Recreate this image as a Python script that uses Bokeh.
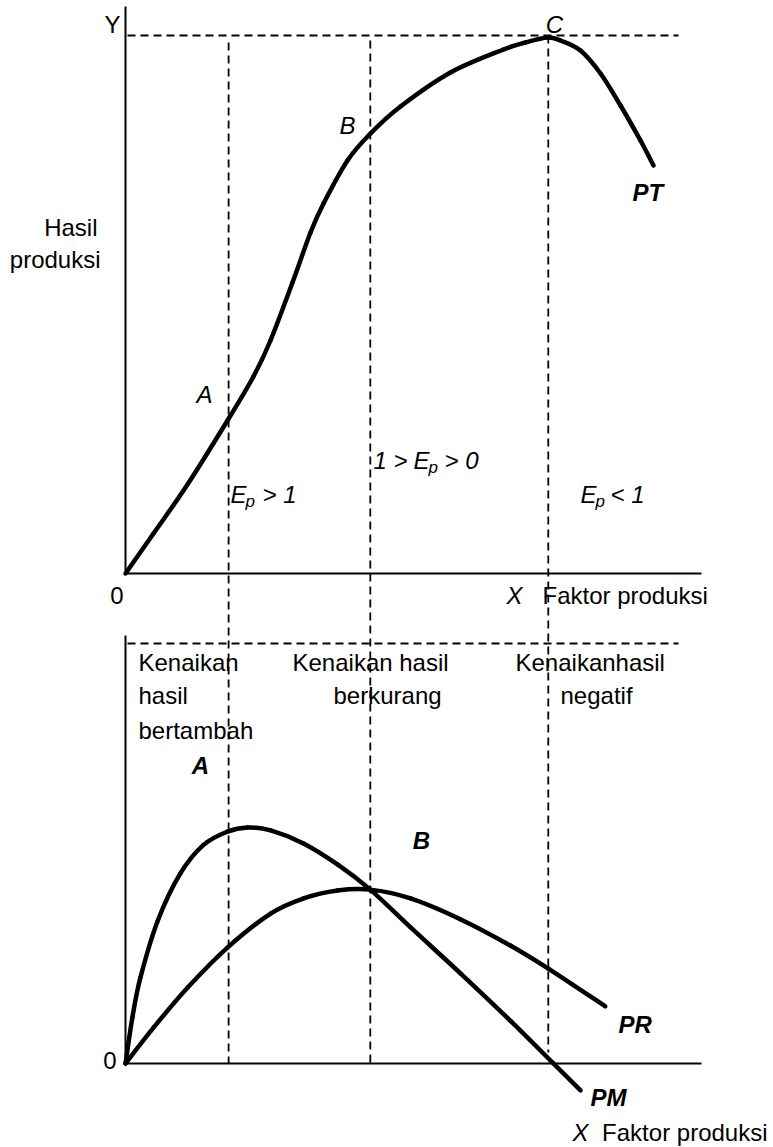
from bokeh.plotting import figure
from bokeh.models import Range1d
from bokeh.core.properties import value
from bokeh.embed import file_html
from bokeh.resources import INLINE

# ---------------- data (x: factor of production 0..100) ----------------
# Total product PT (top panel, y 0..100 where 100 = maximum at C)
pt_x = [0.0, 4.86, 10.76, 17.71, 22.22, 25.17, 28.99, 32.12, 34.38, 38.54, 42.53,
        47.74, 56.42, 65.63, 69.44, 73.26, 75.52, 78.99, 82.47, 85.94, 89.41, 91.67]
pt_y = [0.0, 7.43, 16.54, 28.44, 36.62, 43.31, 54.09, 63.38, 68.77, 76.77, 81.78,
        86.80, 93.12, 97.40, 98.70, 99.63, 99.07, 97.21, 92.94, 86.99, 80.48, 75.84]

# Marginal product PM (bottom panel)
pm_x = [0.0, 1.2, 2.6, 5.6, 9.5, 13.5, 17.7, 21.2, 25.2, 30.9, 36.8, 42.5,
        49.5, 58.2, 66.8, 74.3, 79.0]
pm_y = [0.0, 11.0, 20.5, 34.0, 45.2, 52.0, 55.2, 56.2, 55.5, 52.4, 47.4, 41.4,
        32.4, 21.4, 10.2, 0.0, -6.4]

# Average product PR (bottom panel)
pr_x = [0.0, 4.9, 10.8, 17.7, 25.2, 30.9, 36.8, 42.5, 49.5, 58.2, 66.8, 73.4, 83.3]
pr_y = [0.0, 8.6, 18.1, 27.6, 35.7, 39.3, 41.2, 41.4, 39.3, 34.3, 28.1, 22.6, 13.6]

# stage boundaries A, B, C on the x axis
stage_names = ["A", "B", "C"]
stage_x = [17.9, 42.5, 73.4]
y_top_max = 100.0
y_bot_max = 100.0
x_axis_end = 100.0

# ---------------- geometry (page pixels) ----------------
PAGE = 0
W, H = 773, 1147
X0_PX, XS = 125.0, 5.76
YT0_PX, YTS = 573.0, 5.38
YB0_PX, YBS = 1063.0, 4.2


def X(px):
    return (px - X0_PX) / XS


def YT(py):
    return (YT0_PX - py) / YTS


def YB(py):
    return (YB0_PX - py) / YBS


def bot_in_top(yb):
    return YT(YB0_PX - yb * YBS)


p = figure(width=W, height=H, title=None,
           x_range=Range1d(X(PAGE), X(PAGE + W)),
           y_range=Range1d(YT(PAGE + H), YT(PAGE)),
           x_axis_type=None, y_axis_type=None,
           output_backend="svg", toolbar_location=None,
           min_border=0, outline_line_color=None)
p.extra_y_ranges = {"bot": Range1d(YB(PAGE + H), YB(PAGE))}
p.background_fill_color = "white"
p.border_fill_color = "white"
p.grid.visible = False

BLACK = "#000000"
FONT = value("Liberation Sans")
FS = 24

# ---------------- axes ----------------
p.line([0, 0], [YT(6), 0], line_color=BLACK, line_width=2)
p.line([0, x_axis_end], [0, 0], line_color=BLACK, line_width=2)
p.line([0, 0], [YB(635), 0], line_color=BLACK, line_width=2, y_range_name="bot")
p.line([0, x_axis_end], [0, 0], line_color=BLACK, line_width=1.8, y_range_name="bot")

# ---------------- dashed guides ----------------
DASH = "8 5"
p.line([X(127), X(678)], [y_top_max, y_top_max], line_color=BLACK,
       line_width=1.8, line_dash=DASH)
p.line([X(127), X(678)], [y_bot_max, y_bot_max], line_color=BLACK,
       line_width=1.8, line_dash=DASH, y_range_name="bot")
v_top = [YT(42), YT(40), YT(35)]
v_bot = [bot_in_top(0), bot_in_top(0), bot_in_top(2.6)]
p.segment(x0=stage_x, y0=v_top, x1=stage_x, y1=v_bot, line_color=BLACK,
          line_width=1.8, line_dash=DASH)


# ---------------- curves (smooth Bezier through the read points) ----------------
def smooth_curve(xs, ys, **kw):
    pts = list(zip(xs, ys))
    ext = [pts[0]] + pts + [pts[-1]]
    x0, y0, x1, y1, cx0, cy0, cx1, cy1 = ([] for _ in range(8))
    for i in range(len(pts) - 1):
        p0, p1, p2, p3 = ext[i], ext[i + 1], ext[i + 2], ext[i + 3]
        x0.append(p1[0]); y0.append(p1[1])
        x1.append(p2[0]); y1.append(p2[1])
        cx0.append(p1[0] + (p2[0] - p0[0]) / 6.0)
        cy0.append(p1[1] + (p2[1] - p0[1]) / 6.0)
        cx1.append(p2[0] - (p3[0] - p1[0]) / 6.0)
        cy1.append(p2[1] - (p3[1] - p1[1]) / 6.0)
    p.bezier(x0=x0, y0=y0, x1=x1, y1=y1, cx0=cx0, cy0=cy0, cx1=cx1, cy1=cy1,
             line_color=BLACK, line_width=4.5, line_cap="round", **kw)


smooth_curve(pt_x, pt_y)
smooth_curve(pm_x, pm_y, y_range_name="bot")
smooth_curve(pr_x, pr_y, y_range_name="bot")


# ---------------- labels ----------------
def lab(txt, px, py, rng="default", align="left", style="normal", size=FS):
    py = py - size / 3.0  # compensate renderer baseline placement
    y = YT(py) if rng == "default" else YB(py)
    kw = {}
    if rng != "default":
        kw["y_range_name"] = rng
    p.text(x=[X(px)], y=[y], text=[txt], text_font=FONT,
           text_font_size=f"{size}px",
           text_font_style=style, text_align=align, text_baseline="alphabetic",
           text_color=BLACK, **kw)


# top panel
lab("Y", 120, 32, align="right")
lab("Hasil", 97, 235, align="right")
lab("produksi", 100, 267, align="right")
lab("B", 355, 133, align="right", style="italic")
lab("C", 554, 32, align="center", style="italic")
lab("PT", 632, 200, style="bold italic")
lab("A", 212, 402, align="right", style="italic")
lab("0", 123, 603, align="right")
lab("X", 522, 603, align="right", style="italic")
lab("Faktor produksi", 542, 603)

# elasticity labels
lab("E", 230, 502, style="italic")
lab("p", 245, 507, style="italic", size=17)
lab("> 1", 262, 502, style="italic")

lab("1 >", 373, 468, style="italic")
lab("E", 413, 468, style="italic")
lab("p", 428, 473, style="italic", size=17)
lab("> 0", 444, 468, style="italic")

lab("E", 580, 502, style="italic")
lab("p", 595, 507, style="italic", size=17)
lab("< 1", 610, 502, style="italic")

# bottom panel
lab("Kenaikan", 138, 670, rng="bot")
lab("hasil", 138, 703, rng="bot")
lab("bertambah", 138, 738, rng="bot")
lab("A", 200, 773, rng="bot", align="center", style="bold italic")
lab("Kenaikan hasil", 292, 670, rng="bot")
lab("berkurang", 333, 703, rng="bot")
lab("Kenaikanhasil", 515, 670, rng="bot")
lab("negatif", 560, 703, rng="bot")
lab("B", 421, 848, rng="bot", align="center", style="bold italic")
lab("0", 116, 1068, rng="bot", align="right")
lab("PR", 618, 1032, rng="bot", style="bold italic")
lab("PM", 590, 1105, rng="bot", style="bold italic")
lab("X", 588, 1140, rng="bot", align="right", style="italic")
lab("Faktor produksi", 767, 1140, rng="bot", align="right")

open("out.html", "w").write(file_html(p, INLINE))
